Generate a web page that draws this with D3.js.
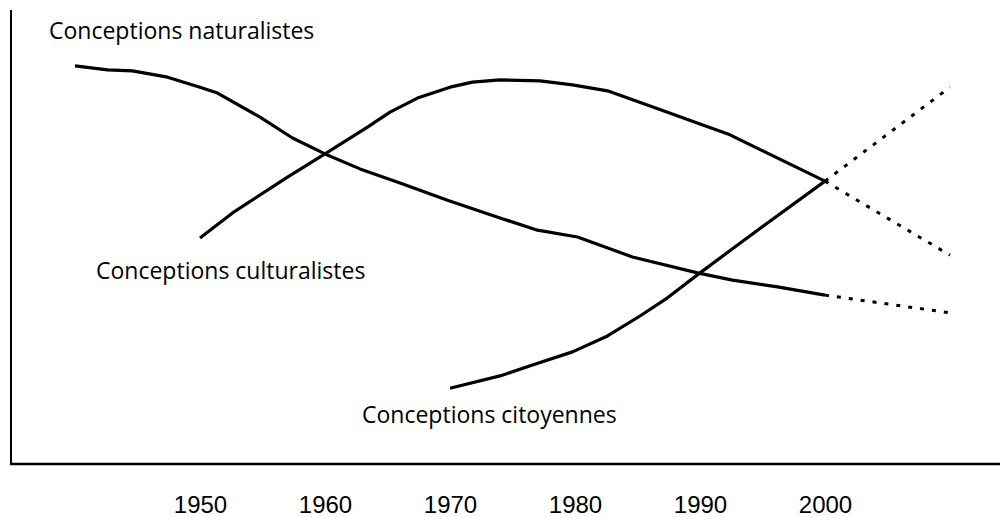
<!DOCTYPE html>
<html>
<head>
<meta charset="utf-8">
<script src="https://cdn.jsdelivr.net/npm/d3@7"></script>
<style>
  html, body { margin: 0; padding: 0; background: #fff; }
  svg { display: block; }
</style>
</head>
<body>
<svg id="chart" width="1000" height="517"></svg>
<script>
// years (x), relative level (y, 0-100)
const naturalYears = [1940, 1942.6, 1944.6, 1947.4, 1950, 1951.4, 1954.8, 1957.4, 1960, 1962.8, 1966, 1969.8, 1974, 1977, 1980.2, 1984.6, 1989.8, 1992.6, 1996.2, 2000];
const naturalValues = [87.7, 86.8, 86.6, 85.2, 83.0, 81.7, 76.4, 71.8, 68.3, 65.0, 61.9, 58.1, 54.2, 51.5, 50.0, 45.6, 42.1, 40.5, 39.0, 37.2];
const naturalForecastYears = [2000, 2010];
const naturalForecastValues = [37.2, 33.3];

const culturalYears = [1950, 1952.6, 1957, 1960, 1963.4, 1965.2, 1967.4, 1970, 1971.8, 1974, 1977.2, 1979.8, 1982.6, 1987.4, 1990, 1992.4, 2000];
const culturalValues = [49.8, 55.3, 63.2, 68.3, 74.2, 77.5, 80.6, 83.0, 84.1, 84.6, 84.4, 83.5, 82.2, 77.5, 74.9, 72.5, 62.3];
const culturalForecastYears = [2000, 2010];
const culturalForecastValues = [62.3, 46.0];

const citizenYears = [1970, 1974, 1976.6, 1979.8, 1982.6, 1985.2, 1987.4, 1990, 1992.6, 1995.4, 2000];
const citizenValues = [16.7, 19.4, 21.8, 24.7, 28.2, 32.6, 36.6, 42.1, 47.4, 53.1, 62.3];
const citizenForecastYears = [2000, 2010];
const citizenForecastValues = [62.3, 83.0];

const tickYears = [1950, 1960, 1970, 1980, 1990, 2000];
const seriesNames = ['Conceptions naturalistes', 'Conceptions culturalistes', 'Conceptions citoyennes'];

const zip = (xs, ys) => xs.map((x, i) => ({ year: x, value: ys[i] }));

const svg = d3.select('#chart');

const x = d3.scaleLinear().domain([1950, 2000]).range([200, 825]);
const y = d3.scaleLinear().domain([0, 100]).range([464, 10]);

// frame: left and bottom lines
svg.append('line')
  .attr('x1', 11).attr('x2', 11)
  .attr('y1', 10).attr('y2', 465)
  .attr('stroke', '#000').attr('stroke-width', 2);
svg.append('line')
  .attr('x1', 10).attr('x2', 1000)
  .attr('y1', 464).attr('y2', 464)
  .attr('stroke', '#000').attr('stroke-width', 2.5);

// year labels, no ticks
const axis = svg.append('g')
  .attr('transform', 'translate(0,464)')
  .call(d3.axisBottom(x).tickValues(tickYears).tickFormat(d3.format('d')).tickSize(0).tickPadding(32));
axis.select('.domain').remove();
axis.selectAll('text')
  .attr('font-family', 'Liberation Sans, Arial, sans-serif')
  .attr('font-size', 24)
  .attr('fill', '#000');

const line = d3.line()
  .x((d) => x(d.year))
  .y((d) => y(d.value));

const solid = [
  zip(naturalYears, naturalValues),
  zip(culturalYears, culturalValues),
  zip(citizenYears, citizenValues),
];
const dotted = [
  zip(naturalForecastYears, naturalForecastValues),
  zip(culturalForecastYears, culturalForecastValues),
  zip(citizenForecastYears, citizenForecastValues),
];

svg.selectAll('.series')
  .data(solid)
  .enter()
  .append('path')
  .attr('class', 'series')
  .attr('d', line)
  .attr('fill', 'none')
  .attr('stroke', '#000')
  .attr('stroke-width', 3.2)
  .attr('stroke-linejoin', 'round');

svg.selectAll('.forecast')
  .data(dotted)
  .enter()
  .append('path')
  .attr('class', 'forecast')
  .attr('d', line)
  .attr('fill', 'none')
  .attr('stroke', '#000')
  .attr('stroke-width', 3)
  .attr('stroke-dasharray', '4,8');

// series labels
const labelPos = [
  [49, 39],
  [96, 279],
  [362, 423],
];
svg.selectAll('.label')
  .data(seriesNames)
  .enter()
  .append('text')
  .attr('class', 'label')
  .attr('x', (d, i) => labelPos[i][0])
  .attr('y', (d, i) => labelPos[i][1])
  .attr('font-family', 'Open Sans, sans-serif')
  .attr('font-size', 23)
  .attr('fill', '#000')
  .text((d) => d);
</script>
</body>
</html>
